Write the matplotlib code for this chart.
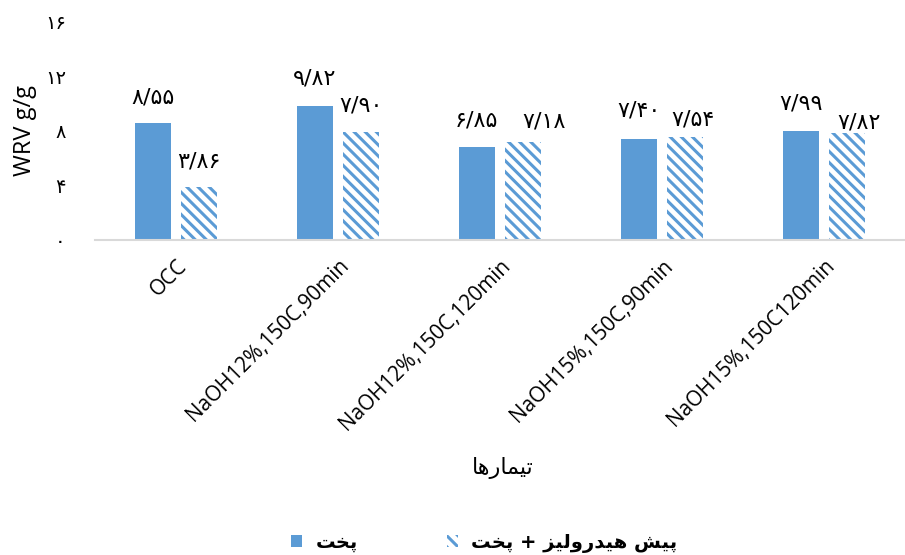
import matplotlib
matplotlib.use("Agg")
import matplotlib.pyplot as plt
import numpy as np

categories = ["OCC", "NaOH12%,150C,90min", "NaOH12%,150C,120min",
              "NaOH15%,150C,90min", "NaOH15%,150C120min"]
cook = [8.55, 9.82, 6.85, 7.40, 7.99]
prehyd_cook = [3.86, 7.90, 7.18, 7.54, 7.82]
series_names = ["پخت", "پیش هیدرولیز + پخت"]
yticks = [0, 4, 8, 12, 16]
xlabel_text = "تیمارها"
ylabel_text = "WRV g/g"

# label placement (pixels from bar top), as in the reference
cook_label_off = [(0, 26), (0, 28), (0, 26), (0, 29), (0, 28)]
prehyd_label_off = [(0, 26), (0, 27), (21, 21), (8, 18), (12, 11)]

# --- minimal Arabic/Persian shaping (presentation forms + RTL order) ---
FORMS = {  # isolated, final, initial, medial
    'ا': ('\uFE8D', '\uFE8E', None, None),
    'د': ('\uFEA9', '\uFEAA', None, None),
    'ر': ('\uFEAD', '\uFEAE', None, None),
    'ز': ('\uFEAF', '\uFEB0', None, None),
    'و': ('\uFEED', '\uFEEE', None, None),
    'ت': ('\uFE95', '\uFE96', '\uFE97', '\uFE98'),
    'خ': ('\uFEA5', '\uFEA6', '\uFEA7', '\uFEA8'),
    'ش': ('\uFEB5', '\uFEB6', '\uFEB7', '\uFEB8'),
    'ل': ('\uFEDD', '\uFEDE', '\uFEDF', '\uFEE0'),
    'م': ('\uFEE1', '\uFEE2', '\uFEE3', '\uFEE4'),
    'ه': ('\uFEE9', '\uFEEA', '\uFEEB', '\uFEEC'),
    'ی': ('\uFBFC', '\uFBFD', '\uFBFE', '\uFBFF'),
    'پ': ('\uFB56', '\uFB57', '\uFB58', '\uFB59'),
}


def shape(s):
    out = []
    n = len(s)
    for i, ch in enumerate(s):
        if ch not in FORMS:
            out.append(ch)
            continue
        f = FORMS[ch]
        prev = s[i - 1] if i > 0 else None
        nxt = s[i + 1] if i + 1 < n else None
        pj = prev in FORMS and FORMS[prev][2] is not None
        nj = f[2] is not None and nxt in FORMS
        if pj and nj:
            out.append(f[3])
        elif pj:
            out.append(f[1])
        elif nj:
            out.append(f[2])
        else:
            out.append(f[0])
    return "".join(out[::-1])


def fa_num(v, fmt="{:.2f}"):
    return fmt.format(v).translate(str.maketrans("0123456789.", "۰۱۲۳۴۵۶۷۸۹/"))


BLUE = "#5B9BD5"
LATIN = ["Open Sans", "DejaVu Sans"]
ARAB = ["DejaVu Sans"]
plt.rcParams["hatch.linewidth"] = 2.2

fig = plt.figure(figsize=(9.05, 5.55), dpi=100)
ax = fig.add_axes([0.105, 0.5676, 0.895, 0.3928])

x = np.arange(len(categories))
w = 0.225
off = 0.143
b1 = ax.bar(x - off, cook, w, color=BLUE, linewidth=0, label=shape(series_names[0]))
b2 = ax.bar(x + off, prehyd_cook, w, facecolor="white", edgecolor=BLUE,
            hatch="\\\\\\", linewidth=0, label=shape(series_names[1]))

for bars, vals, offs in ((b1, cook, cook_label_off), (b2, prehyd_cook, prehyd_label_off)):
    for r, v, (dx, dy) in zip(bars, vals, offs):
        ax.annotate(fa_num(v), (r.get_x() + r.get_width() / 2, v),
                    xytext=(dx, dy), textcoords="offset pixels",
                    ha="center", va="center", fontsize=16, family=ARAB)

ax.set_xlim(-0.5, len(categories) - 0.5)
ax.set_ylim(0, 16)
ax.set_yticks(yticks)
ax.set_yticklabels([fa_num(t, "{:d}") for t in yticks], family=ARAB, fontsize=14)
ax.set_xticks(x)
ax.set_xticklabels(categories, rotation=45, ha="right", rotation_mode="anchor",
                   family=LATIN, fontsize=15)
ax.tick_params(axis="both", length=0)
ax.tick_params(axis="y", pad=21)
ax.tick_params(axis="x", pad=11)
for s in ("top", "right", "left"):
    ax.spines[s].set_visible(False)
ax.spines["bottom"].set_color("#D9D9D9")
ax.spines["bottom"].set_linewidth(1.5)

ax.set_ylabel(ylabel_text, family=LATIN, fontsize=17)
ax.yaxis.set_label_coords(-0.072, 0.5)
fig.text(0.556, 0.157, shape(xlabel_text), ha="center", va="center",
         family=ARAB, fontsize=16)

leg = fig.legend(handles=[b1, b2], loc="center", bbox_to_anchor=(0.535, 0.022),
                 ncol=2, frameon=False, prop={"family": ARAB, "size": 14, "weight": "bold"},
                 handlelength=0.55, handleheight=0.55, columnspacing=4.6, handletextpad=0.7)

fig.savefig("out.png", dpi=100)
